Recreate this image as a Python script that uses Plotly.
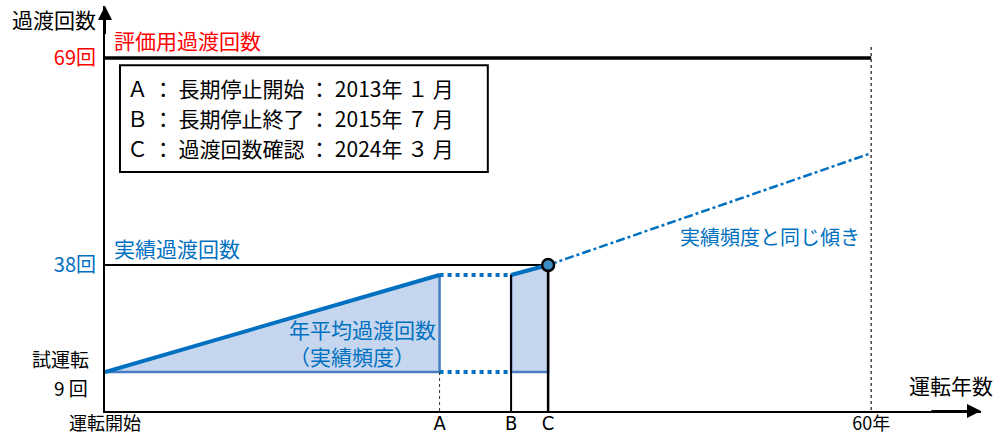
import plotly.graph_objects as go

# ---- schematic data (diagram is not to scale) ----
x_start, x_A, x_B, x_C, x_60 = 0.0, 26.2, 31.8, 34.7, 60.0
count_trial = 9          # 試運転 9回
count_A = 35.3           # count at A (stop start)
count_C = 38             # 実績 38回
count_eval = 69          # 評価用 69回
eval_level_plot = 94.1   # where the 69回 line is drawn on the schematic
trend_end_x, trend_end_y = 60.0, 68.3
line60_top = 97.1

x_tickvals = [x_start, x_A, x_B, x_C, x_60]
x_ticktext = ["運転開始", "A", "B", "C", "60年"]
y_tickvals = [count_C, eval_level_plot]
y_ticktext = ["38回", "69回"]
trial_label = ["試運転", "9 回"]

box_lines = ["Ａ ： 長期停止開始 ： 2013年 １ 月",
             "Ｂ ： 長期停止終了 ： 2015年 ７ 月",
             "Ｃ ： 過渡回数確認 ： 2024年 ３ 月"]

XMAX, YMIN, YMAX = 68.6, -1.57, 108.2

BLUE = "#0070C0"
FILL = "#C5D6EE"
EDGE = "#4A7EC2"
FONT = "Noto Sans CJK JP"
NARROW = "DejaVu Sans Condensed"

fig = go.Figure()

# period 1 (operation start -> A)
fig.add_trace(go.Scatter(x=[x_start, x_A, x_A, x_start], y=[count_trial, count_A, count_trial, count_trial],
                         fill="toself", fillcolor=FILL, mode="lines",
                         line=dict(color=EDGE, width=2.5), hoverinfo="skip"))
fig.add_trace(go.Scatter(x=[x_start, x_A], y=[count_trial, count_A], mode="lines",
                         line=dict(color=BLUE, width=4), hoverinfo="skip"))
# period 2 (B -> C)
fig.add_trace(go.Scatter(x=[x_B, x_B, x_C, x_C, x_B], y=[count_trial, count_A, count_C, count_trial, count_trial],
                         fill="toself", fillcolor=FILL, mode="lines",
                         line=dict(color=EDGE, width=2.5), hoverinfo="skip"))
# stop period dotted
fig.add_trace(go.Scatter(x=[x_A, x_B], y=[count_A, count_A], mode="lines",
                         line=dict(color=BLUE, width=4, dash="dot"), hoverinfo="skip"))
fig.add_trace(go.Scatter(x=[x_A, x_B], y=[count_trial, count_trial], mode="lines",
                         line=dict(color=BLUE, width=4, dash="dot"), hoverinfo="skip"))
# 38 line
fig.add_trace(go.Scatter(x=[x_start, x_C], y=[count_C, count_C], mode="lines",
                         line=dict(color="black", width=2), hoverinfo="skip"))
fig.add_trace(go.Scatter(x=[x_B, x_C], y=[count_A, count_C], mode="lines",
                         line=dict(color=BLUE, width=4), hoverinfo="skip"))
# 69 line
fig.add_trace(go.Scatter(x=[x_start, x_60], y=[eval_level_plot, eval_level_plot], mode="lines",
                         line=dict(color="black", width=3.5), hoverinfo="skip"))
# verticals
fig.add_trace(go.Scatter(x=[x_B, x_B], y=[count_A, YMIN], mode="lines",
                         line=dict(color="black", width=2), hoverinfo="skip"))
fig.add_trace(go.Scatter(x=[x_C, x_C], y=[count_C, YMIN], mode="lines",
                         line=dict(color="black", width=2.5), hoverinfo="skip"))
fig.add_trace(go.Scatter(x=[x_A, x_A], y=[count_trial, YMIN], mode="lines",
                         line=dict(color="#333333", width=1, dash="dot"), hoverinfo="skip"))
fig.add_trace(go.Scatter(x=[x_60, x_60], y=[line60_top, YMIN], mode="lines",
                         line=dict(color="#444444", width=1.5, dash="dot"), hoverinfo="skip"))
# trend extension
fig.add_trace(go.Scatter(x=[x_C, trend_end_x], y=[count_C, trend_end_y], mode="lines",
                         line=dict(color=BLUE, width=2.5, dash="dashdot"), hoverinfo="skip"))
# point C
fig.add_trace(go.Scatter(x=[x_C], y=[count_C], mode="markers",
                         marker=dict(size=12, color="#3C8DC4", line=dict(color="black", width=2.5)),
                         hoverinfo="skip"))

x_tt = [t if t in ("運転開始", "60年") else f'<span style="font-family:{NARROW};font-size:20px">{t}</span>'
        for t in x_ticktext]
y_colors = [BLUE, "red"]
y_tt = [f'<span style="color:{c}">{t}</span>' for t, c in zip(y_ticktext, y_colors)]

fig.update_layout(
    width=1008, height=437,
    margin=dict(l=105, r=27, t=6, b=26),
    paper_bgcolor="white", plot_bgcolor="white",
    showlegend=False,
    font=dict(family=FONT, size=19, color="black"),
    xaxis=dict(range=[0, XMAX], showgrid=False, zeroline=False, showline=True, automargin=False,
               linecolor="black", linewidth=2, ticks="", tickvals=x_tickvals, ticktext=x_tt,
               tickfont=dict(size=18), ticklabelstandoff=-5, fixedrange=True),
    yaxis=dict(range=[YMIN, YMAX], showgrid=False, zeroline=False, showline=True, automargin=False,
               linecolor="black", linewidth=2, ticks="", tickvals=y_tickvals, ticktext=y_tt,
               tickfont=dict(size=20), ticklabelstandoff=3, fixedrange=True),
)

# 試運転 / 9 回 labels at the trial-run level
fig.add_annotation(x=0, y=count_trial, xref="paper", yref="y", xanchor="right", yanchor="middle",
                   xshift=-14, yshift=14, text=trial_label[0], showarrow=False,
                   font=dict(size=19, color="black"))
fig.add_annotation(x=0, y=count_trial, xref="paper", yref="y", xanchor="right", yanchor="middle",
                   xshift=-15, yshift=-15, text=trial_label[1], showarrow=False,
                   font=dict(size=19, color="black"))

# axis arrows
fig.add_annotation(x=0, y=YMAX, ax=0, ay=YMAX - 8, xref="x", yref="y", axref="x", ayref="y",
                   showarrow=True, arrowhead=2, arrowsize=1.4, arrowwidth=2, arrowcolor="black", text="")
fig.add_annotation(x=XMAX, y=YMIN, ax=XMAX - 4, ay=YMIN, xref="x", yref="y", axref="x", ayref="y",
                   showarrow=True, arrowhead=2, arrowsize=1.4, arrowwidth=2, arrowcolor="black", text="")

# texts
fig.add_annotation(x=-0.008, y=0.968, xref="paper", yref="paper", xanchor="right", yanchor="middle",
                   text="過渡回数", showarrow=False, font=dict(size=21, color="black"))
fig.add_annotation(x=62.8, y=5.5, xanchor="left", yanchor="middle",
                   text="運転年数", showarrow=False, font=dict(size=21, color="black"))
fig.add_annotation(x=0.55, y=99.0, xanchor="left", yanchor="middle",
                   text="評価用過渡回数", showarrow=False, font=dict(size=21, color="red"))
fig.add_annotation(x=0.55, y=42.6, xanchor="left", yanchor="middle",
                   text="実績過渡回数", showarrow=False, font=dict(size=21, color=BLUE))
fig.add_annotation(x=14.25, y=16.9, xanchor="left", yanchor="middle", align="left",
                   text="年平均過渡回数<br>（実績頻度）", showarrow=False, font=dict(size=21, color=BLUE))
fig.add_annotation(x=44.9, y=45.6, xanchor="left", yanchor="middle",
                   text="実績頻度と同じ傾き", showarrow=False, font=dict(size=20, color=BLUE))

# legend box
fig.add_shape(type="rect", xref="paper", yref="paper", x0=0.0171, x1=0.437, y0=0.590, y1=0.854,
              line=dict(color="black", width=2), fillcolor="white")
for i, t in enumerate(box_lines):
    fig.add_annotation(x=0.0228, y=0.7975 - i * 0.074, xref="paper", yref="paper",
                       xanchor="left", yanchor="middle", text=t, showarrow=False,
                       font=dict(size=21, color="black"))

fig.write_html("out.html", config={"displayModeBar": False},
               post_script="document.body.style.margin='0';")
